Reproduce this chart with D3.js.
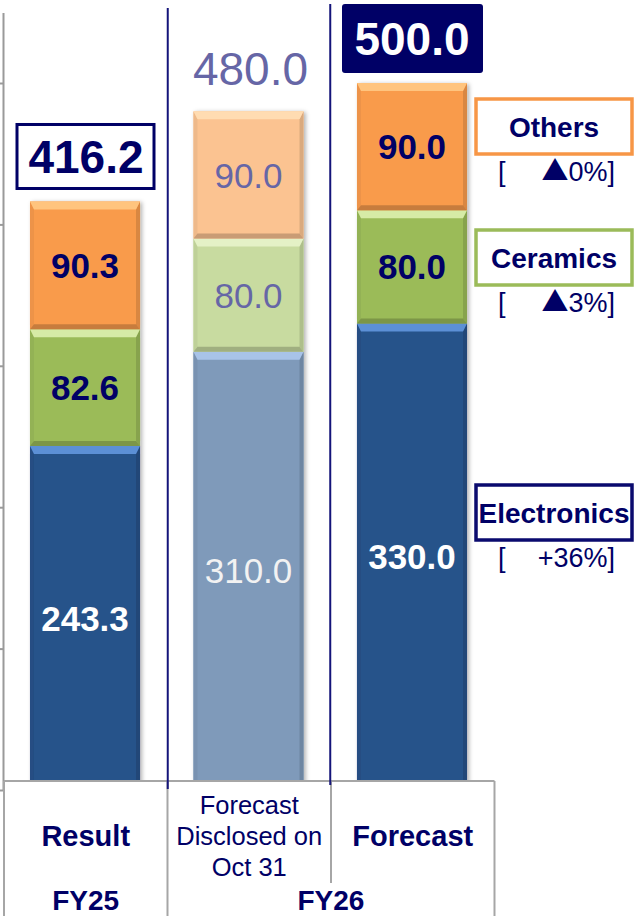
<!DOCTYPE html>
<html>
<head>
<meta charset="utf-8">
<script src="https://cdn.jsdelivr.net/npm/d3@7"></script>
<style>
  html, body { margin: 0; padding: 0; background: #fff; }
  svg { display: block; font-family: "Liberation Sans", Arial, sans-serif; }
</style>
</head>
<body>
<svg id="chart" width="634" height="916"></svg>
<script>
// ---------------- data ----------------
const categories = ["Result", "Forecast Disclosed on Oct 31", "Forecast"];
const categoryLines = [["Result"], ["Forecast", "Disclosed on", "Oct 31"], ["Forecast"]];
const years = ["FY25", "FY26"];
const seriesNames = ["Electronics", "Ceramics", "Others"];
const electronics = [243.3, 310.0, 330.0];
const ceramics = [82.6, 80.0, 80.0];
const others = [90.3, 90.0, 90.0];
const totals = [416.2, 480.0, 500.0];
const changeSign = ["+", "▲", "▲"];        // Electronics, Ceramics, Others
const changeValue = ["36%", "3%", "0%"];
const yTicks = [0, 100, 200, 300, 400, 500];

// ---------------- layout / style ----------------
const W = 634, H = 916;
const navy = "#000066";
const slate = "#6666a6";
const baseColors = { Electronics: "#27528a", Ceramics: "#9bbb59", Others: "#f99b4c" };
const baseTop = { Electronics: "#5c90d6", Ceramics: "#d6eba6", Others: "#ffc47e" };
const fadedColors = { Electronics: "#7f9aba", Ceramics: "#c8dba0", Others: "#fbc391" };
const fadedTop = { Electronics: "#a8c3e8", Ceramics: "#e4f1c6", Others: "#ffdcb2" };
const legendBorder = { Electronics: "#0a0a6e", Ceramics: "#9bbb59", Others: "#f79646" };
const legendBoxY = { Others: 99, Ceramics: 230, Electronics: 485 };
const tableTop = 781;

const svg = d3.select("#chart");

const defs = svg.append("defs");
const sh = defs.append("filter").attr("id", "shadow")
  .attr("x", "-20%").attr("y", "-5%").attr("width", "140%").attr("height", "110%");
sh.append("feDropShadow").attr("dx", 2).attr("dy", 1).attr("stdDeviation", 2)
  .attr("flood-color", "#000").attr("flood-opacity", 0.3);

const x = d3.scaleBand().domain(categories).range([3.5, 493.5])
  .paddingInner(0.327).paddingOuter(0.162);
const y = d3.scaleLinear().domain([0, 500]).range([790, 83]);

const rows = categories.map((c, i) => ({
  cat: c, Electronics: electronics[i], Ceramics: ceramics[i], Others: others[i], idx: i
}));
const stacked = d3.stack().keys(seriesNames)(rows);

// ---------------- left axis ----------------
svg.append("line").attr("x1", x.range()[0]).attr("x2", x.range()[0])
  .attr("y1", 13).attr("y2", y(0))
  .attr("stroke", "#9a9a9a").attr("stroke-width", 2);
const axisG = svg.append("g").attr("transform", `translate(${x.range()[0]},0)`)
  .call(d3.axisLeft(y).tickValues(yTicks).tickSize(4).tickFormat(""));
axisG.select(".domain").remove();
axisG.selectAll(".tick line").attr("stroke", "#9a9a9a").attr("stroke-width", 2);

// ---------------- bars ----------------
const bw = x.bandwidth();
function bevelSeg(g, x0, x1, y0, y1, color, topColor) {
  const dark = d3.interpolateRgb(color, "#000000")(0.2);
  const sideL = d3.interpolateRgb(color, "#000000")(0.05);
  const sideR = d3.interpolateRgb(color, "#000000")(0.13);
  const t = 8, s = 4, b = 5;
  g.append("rect").attr("x", x0).attr("y", y0).attr("width", x1 - x0).attr("height", y1 - y0)
    .attr("fill", color);
  const poly = (pts, fill) => g.append("polygon")
    .attr("points", pts.map(p => p.join(",")).join(" ")).attr("fill", fill);
  poly([[x0, y0], [x0 + s, y0 + t], [x0 + s, y1 - b], [x0, y1]], sideL);
  poly([[x1, y0], [x1 - s, y0 + t], [x1 - s, y1 - b], [x1, y1]], sideR);
  poly([[x0, y1], [x1, y1], [x1 - s, y1 - b], [x0 + s, y1 - b]], dark);
  poly([[x0, y0], [x1, y0], [x1 - s, y0 + t], [x0 + s, y0 + t]], topColor);
}

const barsG = svg.append("g");
categories.forEach((cat, i) => {
  const g = barsG.append("g").attr("filter", "url(#shadow)");
  const x0 = x(cat), x1 = x(cat) + bw;
  stacked.forEach(layer => {
    const d = layer[i];
    const faded = i === 1;
    const col = faded ? fadedColors[layer.key] : baseColors[layer.key];
    const top = faded ? fadedTop[layer.key] : baseTop[layer.key];
    bevelSeg(g, x0, x1, y(d[1]), y(d[0]), col, top);
  });
});

// segment labels
const labelsG = svg.append("g");
stacked.forEach(layer => {
  layer.forEach((d, i) => {
    const faded = i === 1;
    const isElec = layer.key === "Electronics";
    let fill;
    if (faded) fill = isElec ? "#f2f2f2" : slate;
    else fill = isElec ? "#ffffff" : navy;
    labelsG.append("text")
      .attr("x", x(categories[i]) + bw / 2)
      .attr("y", (y(d[0]) + y(d[1])) / 2)
      .attr("dy", "0.36em")
      .attr("text-anchor", "middle")
      .attr("font-size", 35)
      .attr("font-weight", faded ? "normal" : "bold")
      .attr("fill", fill)
      .text((d[1] - d[0]).toFixed(1));
  });
});

// ---------------- totals ----------------
totals.forEach((t, i) => {
  const cx = x(categories[i]) + bw / 2;
  const cy = y(t) - 45;
  if (i === 0) {
    svg.append("rect").attr("x", cx - 68).attr("y", cy - 32).attr("width", 137).attr("height", 64)
      .attr("fill", "#fff").attr("stroke", navy).attr("stroke-width", 3);
    svg.append("text").attr("x", cx + 1).attr("y", cy).attr("dy", "0.36em")
      .attr("text-anchor", "middle").attr("font-size", 46).attr("font-weight", "bold")
      .attr("fill", navy).text(t.toFixed(1));
  } else if (i === 1) {
    svg.append("text").attr("x", cx + 2).attr("y", cy + 2).attr("dy", "0.36em")
      .attr("text-anchor", "middle").attr("font-size", 46).attr("font-weight", "normal")
      .attr("fill", slate).text(t.toFixed(1));
  } else {
    svg.append("rect").attr("x", cx - 70).attr("y", cy - 34).attr("width", 141).attr("height", 69)
      .attr("rx", 3).attr("fill", navy);
    svg.append("text").attr("x", cx).attr("y", cy).attr("dy", "0.36em")
      .attr("text-anchor", "middle").attr("font-size", 46).attr("font-weight", "bold")
      .attr("fill", "#fff").text(t.toFixed(1));
  }
});

// ---------------- bottom table ----------------
const step = x.step();
const colEdges = [0, 1, 2, 3].map(k => x.range()[0] + 0.5 + k * step);
const tg = svg.append("g");
tg.append("rect").attr("x", colEdges[0]).attr("y", tableTop)
  .attr("width", colEdges[3] - colEdges[0]).attr("height", H - tableTop).attr("fill", "#fff");
const gray = "#a6a6a6";
tg.append("line").attr("x1", colEdges[0]).attr("x2", colEdges[3]).attr("y1", tableTop).attr("y2", tableTop)
  .attr("stroke", gray).attr("stroke-width", 2);
[0, 1, 3].forEach(k => tg.append("line").attr("x1", colEdges[k]).attr("x2", colEdges[k])
  .attr("y1", tableTop).attr("y2", H).attr("stroke", gray).attr("stroke-width", 2));
tg.append("line").attr("x1", colEdges[2]).attr("x2", colEdges[2])
  .attr("y1", tableTop).attr("y2", 883).attr("stroke", gray).attr("stroke-width", 2);

categoryLines.forEach((lines, i) => {
  const cx = (colEdges[i] + colEdges[i + 1]) / 2;
  if (lines.length === 1) {
    tg.append("text").attr("x", cx).attr("y", 836).attr("dy", "0.36em")
      .attr("text-anchor", "middle").attr("font-size", 29).attr("font-weight", "bold")
      .attr("fill", navy).text(lines[0]);
  } else {
    lines.forEach((ln, j) => {
      tg.append("text").attr("x", cx).attr("y", 805 + j * 31).attr("dy", "0.36em")
        .attr("text-anchor", "middle").attr("font-size", 25.5).attr("font-weight", "normal")
        .attr("fill", navy).text(ln);
    });
  }
});
tg.append("text").attr("x", (colEdges[0] + colEdges[1]) / 2).attr("y", 900).attr("dy", "0.36em")
  .attr("text-anchor", "middle").attr("font-size", 28).attr("font-weight", "bold")
  .attr("fill", navy).text(years[0]);
tg.append("text").attr("x", (colEdges[1] + colEdges[3]) / 2).attr("y", 900).attr("dy", "0.36em")
  .attr("text-anchor", "middle").attr("font-size", 28).attr("font-weight", "bold")
  .attr("fill", navy).text(years[1]);

// ---------------- navy dividers ----------------
const div1 = x(categories[0]) + bw + (step - bw) / 2 + 1;
const div2 = x(categories[1]) + bw + (step - bw) / 2;
svg.append("line").attr("x1", div1).attr("x2", div1).attr("y1", 8).attr("y2", 789)
  .attr("stroke", "#14147a").attr("stroke-width", 2);
svg.append("line").attr("x1", div2).attr("x2", div2).attr("y1", 4).attr("y2", 785)
  .attr("stroke", "#14147a").attr("stroke-width", 2);

// ---------------- legend ----------------
const lg = svg.append("g");
["Others", "Ceramics", "Electronics"].forEach(name => {
  const by = legendBoxY[name];
  const bx = 476, bwid = 156, bh = 55;
  lg.append("rect").attr("x", bx).attr("y", by).attr("width", bwid).attr("height", bh)
    .attr("fill", "#fff").attr("stroke", legendBorder[name]).attr("stroke-width", 3.5);
  lg.append("text").attr("x", bx + bwid / 2).attr("y", by + bh / 2).attr("dy", "0.36em")
    .attr("text-anchor", "middle").attr("font-size", 28).attr("font-weight", "bold")
    .attr("fill", navy).text(name);
  const ci = seriesNames.indexOf(name);
  const ty = by + bh + 17;
  lg.append("text").attr("x", 498).attr("y", ty).attr("dy", "0.36em")
    .attr("font-size", 27).attr("fill", navy).text("[");
  const t = lg.append("text").attr("x", 615).attr("y", ty).attr("dy", "0.36em")
    .attr("text-anchor", "end").attr("font-size", 27).attr("fill", navy);
  const sign = changeSign[ci];
  if (sign === "▲") {
    t.append("tspan").attr("font-family", "'Noto Sans CJK JP', 'DejaVu Sans', sans-serif")
      .attr("font-size", 27).text(sign);
  } else {
    t.append("tspan").text(sign);
  }
  t.append("tspan").text(changeValue[ci] + "]");
});
</script>
</body>
</html>
